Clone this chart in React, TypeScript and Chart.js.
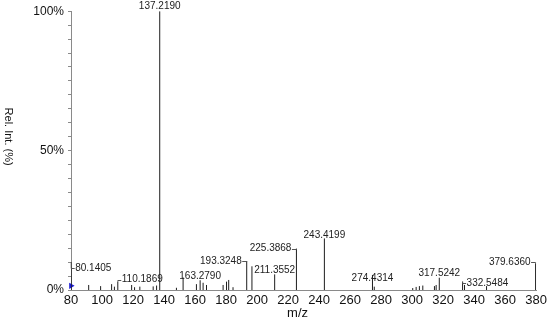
import React, { useEffect, useRef } from "react";
import { Chart, registerables } from "chart.js";

Chart.register(...registerables);

// Labelled peaks (m/z, relative intensity %)
const labelMz = [80.1405, 110.1869, 137.219, 163.279, 193.3248, 211.3552, 225.3868, 243.4199, 274.4314, 317.5242, 332.5484, 379.636];
const labelInt = [10.0, 3.0, 100, 3.5, 10.4, 5.6, 14.8, 18.5, 5.4, 4.4, 3.0, 9.6];
const labelText = ["80.1405", "110.1869", "137.2190", "163.2790", "193.3248", "211.3552", "225.3868", "243.4199", "274.4314", "317.5242", "332.5484", "379.6360"];

// Unlabelled minor peaks
const minorMz = [91.4, 99.1, 106.2, 108.0, 119.1, 121.0, 124.4, 133.0, 135.2, 148.0, 152.3, 160.9, 165.2, 167.4, 178.1, 180.3, 181.7, 184.5, 196.7, 275.6, 300.4, 302.6, 304.7, 306.9, 314.4, 315.5, 333.8, 348.0];
const minorInt = [1.8, 1.4, 2.1, 1.2, 1.8, 1.0, 1.2, 1.3, 1.6, 0.8, 4.5, 2.1, 2.6, 1.8, 1.8, 3.0, 3.6, 1.0, 8.5, 1.2, 0.7, 1.1, 1.4, 1.6, 1.4, 1.8, 1.8, 1.4];

// Precursor marker
const precursorMz = [80];
const precursorInt = [1.5];

const xMin = 80;
const xMax = 380;
const xStep = 20;
const yMin = 0;
const yMax = 100;
const yMinorStep = 5;
const yLabelled = [0, 50, 100];

const xTitle = "m/z";
const yTitle = "Rel. Int. (%)";

// label placement style: mode and vertical offset from the peak top (px)
const labelStyle = [
  { mode: "right", dy: 6 },
  { mode: "right", dy: -2 },
  { mode: "top", dy: -5 },
  { mode: "top", dy: -4 },
  { mode: "left", dy: 0 },
  { mode: "top", dy: -4.5 },
  { mode: "left", dy: 0 },
  { mode: "top", dy: -3.5 },
  { mode: "top", dy: 3 },
  { mode: "top", dy: -4 },
  { mode: "right", dy: 1.5 },
  { mode: "left", dy: -1 },
];

const FONT = "Arial, 'Liberation Sans', sans-serif";

function buildPeakSegments() {
  const all: { x: number; y: number }[] = [];
  labelMz.forEach((m, i) => all.push({ x: m, y: labelInt[i] }));
  minorMz.forEach((m, i) => all.push({ x: m, y: minorInt[i] }));
  all.sort((a, b) => a.x - b.x);
  const pts: { x: number; y: number | null }[] = [];
  for (const p of all) {
    pts.push({ x: p.x, y: 0 });
    pts.push({ x: p.x, y: p.y });
    pts.push({ x: p.x, y: null });
  }
  return pts;
}

const peakLabelPlugin = {
  id: "peakLabels",
  afterDatasetsDraw(chart: any) {
    const ctx = chart.ctx;
    const xs = chart.scales.x;
    const ys = chart.scales.y;
    ctx.save();
    ctx.font = `10px ${FONT}`;
    ctx.fillStyle = "#222";
    ctx.strokeStyle = "#555";
    ctx.lineWidth = 1;
    ctx.textBaseline = "middle";
    labelMz.forEach((m, i) => {
      const x = xs.getPixelForValue(m);
      const top = ys.getPixelForValue(labelInt[i]);
      const st = labelStyle[i];
      const ly = top + st.dy;
      if (st.mode === "top") {
        ctx.textAlign = "center";
        ctx.fillText(labelText[i], x, ly);
      } else if (st.mode === "left") {
        ctx.textAlign = "right";
        ctx.fillText(labelText[i], x - 5, ly);
        ctx.beginPath();
        ctx.moveTo(x - 4.5, Math.round(ly) + 0.5);
        ctx.lineTo(x, Math.round(ly) + 0.5);
        ctx.lineTo(x, top);
        ctx.stroke();
      } else {
        ctx.textAlign = "left";
        ctx.fillText(labelText[i], x + 4, ly);
        ctx.beginPath();
        ctx.moveTo(x, top);
        ctx.lineTo(x, Math.round(ly) + 0.5);
        ctx.lineTo(x + 3.5, Math.round(ly) + 0.5);
        ctx.stroke();
      }
    });
    ctx.restore();
  },
};

const axisTitlePlugin = {
  id: "axisTitles",
  afterDraw(chart: any) {
    const ctx = chart.ctx;
    const area = chart.chartArea;
    ctx.save();
    ctx.fillStyle = "#111";
    ctx.textAlign = "center";
    ctx.textBaseline = "middle";
    ctx.font = `13px ${FONT}`;
    ctx.fillText(xTitle, (area.left + area.right) / 2 - 6, chart.height - 5);
    ctx.font = `11px ${FONT}`;
    ctx.translate(8, (area.top + area.bottom) / 2 - 14);
    ctx.rotate(Math.PI / 2);
    ctx.fillText(yTitle, 0, 0);
    ctx.restore();
  },
};

export default function App() {
  const ref = useRef<HTMLCanvasElement | null>(null);
  useEffect(() => {
    document.body.style.margin = "0";
    if (!ref.current) return;
    const chart = new Chart(ref.current, {
      type: "scatter",
      data: {
        datasets: [
          {
            data: buildPeakSegments() as any,
            showLine: true,
            spanGaps: false,
            borderColor: "#1e1e1e",
            borderWidth: 1,
            pointRadius: 0,
            pointHoverRadius: 0,
          },
          {
            data: precursorMz.map((m, i) => ({ x: m, y: precursorInt[i] })),
            showLine: false,
            pointStyle: "triangle",
            rotation: 90,
            pointRadius: 3.6,
            backgroundColor: "#1c1cd6",
            borderColor: "#1c1cd6",
            borderWidth: 0,
            clip: false as any,
          },
        ],
      },
      options: {
        animation: false,
        responsive: false,
        devicePixelRatio: 1,
        events: [],
        layout: { padding: { top: 10, right: 13, left: 0, bottom: 0 } },
        plugins: {
          legend: { display: false },
          tooltip: { enabled: false },
          title: { display: false },
        },
        scales: {
          x: {
            type: "linear",
            min: xMin,
            max: xMax,
            afterFit: (s: any) => {
              s.height = 28;
            },
            afterBuildTicks: (s: any) => {
              const t = [];
              for (let v = xMin; v <= xMax; v += xStep) t.push({ value: v });
              s.ticks = t;
            },
            ticks: {
              autoSkip: false,
              maxRotation: 0,
              padding: 3,
              color: "#111",
              font: { family: FONT, size: 13 },
              callback: (v: any) => String(v),
            },
            grid: { display: false, drawTicks: false },
            border: { display: true, color: "#8a8a8a", width: 1 },
          },
          y: {
            type: "linear",
            min: yMin,
            max: yMax,
            afterFit: (s: any) => {
              s.width = 71;
            },
            afterBuildTicks: (s: any) => {
              const t = [];
              for (let v = yMin; v <= yMax; v += yMinorStep) t.push({ value: v });
              s.ticks = t;
            },
            ticks: {
              autoSkip: false,
              padding: 4,
              color: "#111",
              font: { family: FONT, size: 12 },
              callback: (v: any) => (yLabelled.includes(Number(v)) ? `${v}%` : ""),
            },
            grid: {
              drawOnChartArea: false,
              drawTicks: true,
              tickLength: 3,
              color: "#8a8a8a",
            },
            border: { display: true, color: "#8a8a8a", width: 1 },
          },
        },
      },
      plugins: [peakLabelPlugin, axisTitlePlugin],
    });
    return () => chart.destroy();
  }, []);
  return <canvas ref={ref} width={550} height={318} style={{ display: "block" }} />;
}
